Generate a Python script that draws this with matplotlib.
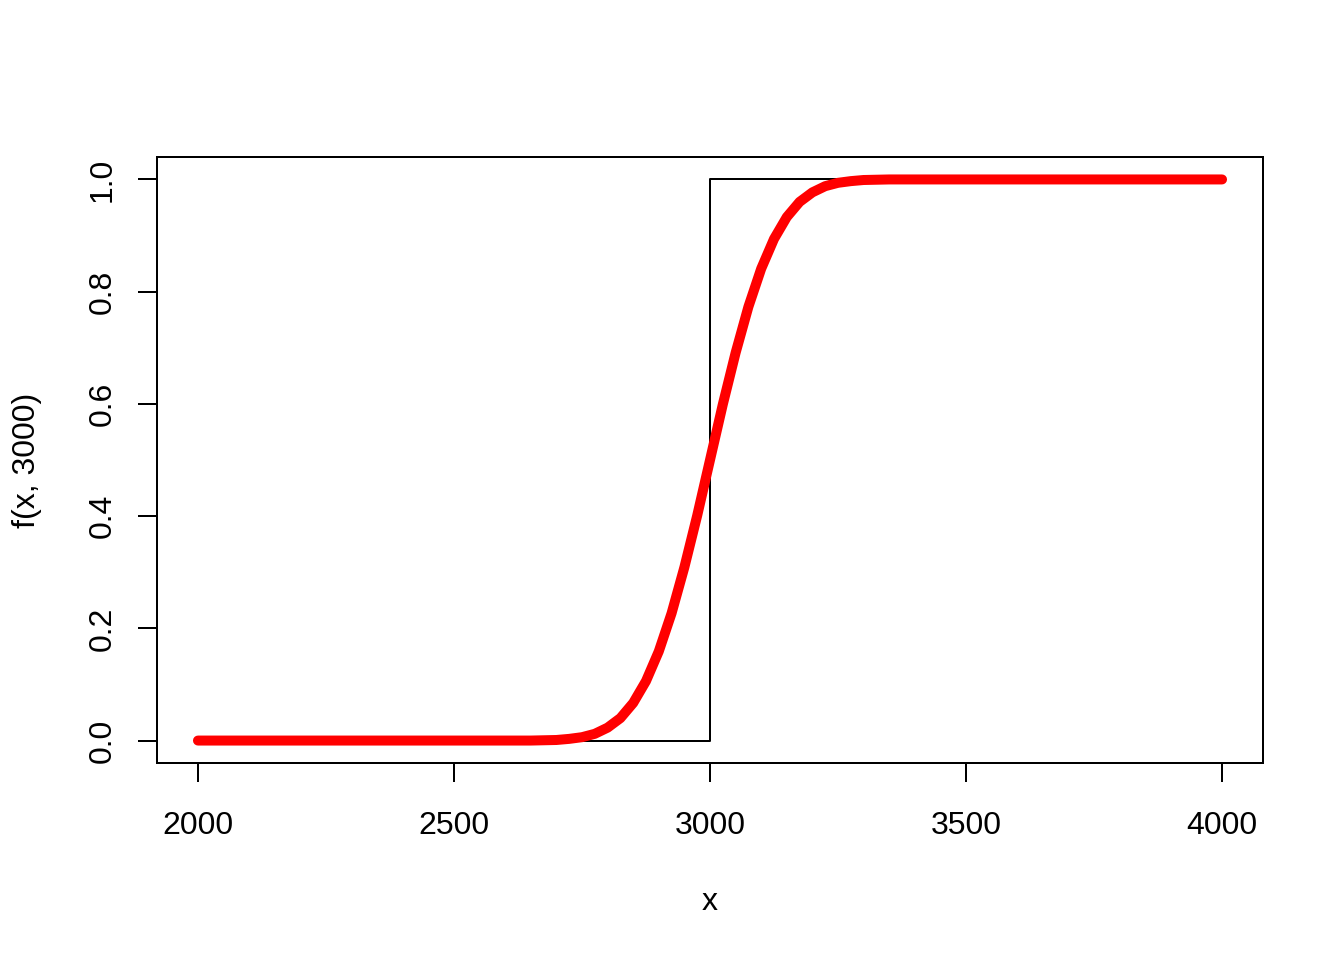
import matplotlib
matplotlib.use("Agg")
import matplotlib.pyplot as plt

# Step function f(x, 3000)
step_x = [2000, 3000, 3000, 4000]
step_y = [0, 0, 1, 1]

# Smooth red curve
curve_x = [2000, 2500, 2650, 2700, 2725, 2750, 2775, 2800, 2825, 2850, 2875,
           2900, 2925, 2950, 2975, 3000, 3025, 3050, 3075, 3100, 3125, 3150,
           3175, 3200, 3225, 3250, 3275, 3300, 3350, 3500, 4000]
curve_y = [0.0, 0.0, 0.0, 0.001, 0.003, 0.006, 0.012, 0.023, 0.040, 0.067, 0.106,
           0.159, 0.227, 0.309, 0.401, 0.500, 0.599, 0.691, 0.773, 0.841, 0.894, 0.933,
           0.960, 0.977, 0.988, 0.994, 0.997, 0.999, 1.0, 1.0, 1.0]

x_ticks = [2000, 2500, 3000, 3500, 4000]
y_ticks = [0.0, 0.2, 0.4, 0.6, 0.8, 1.0]
y_tick_labels = ["0.0", "0.2", "0.4", "0.6", "0.8", "1.0"]

plt.rcParams['font.family'] = ['Liberation Sans', 'DejaVu Sans']

W, H = 1344, 960
fig = plt.figure(figsize=(7, 5), dpi=192)
ax = fig.add_axes([157 / W, 1 - 763 / H, (1263 - 157) / W, (763 - 157) / H])

ax.plot(step_x, step_y, color='black', lw=0.75)
ax.plot(curve_x, curve_y, color='#FF0000', lw=3.75, solid_capstyle='round',
        solid_joinstyle='round')

ax.set_xlim(1920, 4080)
ax.set_ylim(-0.04, 1.04)
ax.set_xticks(x_ticks)
ax.set_xticklabels([str(v) for v in x_ticks])
ax.set_yticks(y_ticks)
ax.set_yticklabels(y_tick_labels)

for s in ax.spines.values():
    s.set_linewidth(0.75)
    s.set_color('black')

ax.tick_params(axis='both', direction='out', length=7.2, width=0.75,
               labelsize=12, colors='black')
ax.tick_params(axis='x', pad=10.8)
ax.tick_params(axis='y', pad=7.6)
for lbl in ax.get_yticklabels():
    lbl.set_rotation(90)
    lbl.set_va('center')

fig.text(710 / W, 1 - 910 / H, 'x', ha='center', va='baseline', fontsize=12)
fig.text(27.5 / W, 1 - 460 / H, 'f(x, 3000)', ha='center', va='center',
         rotation=90, fontsize=12)

fig.savefig('out.png', dpi=192, facecolor='white')
